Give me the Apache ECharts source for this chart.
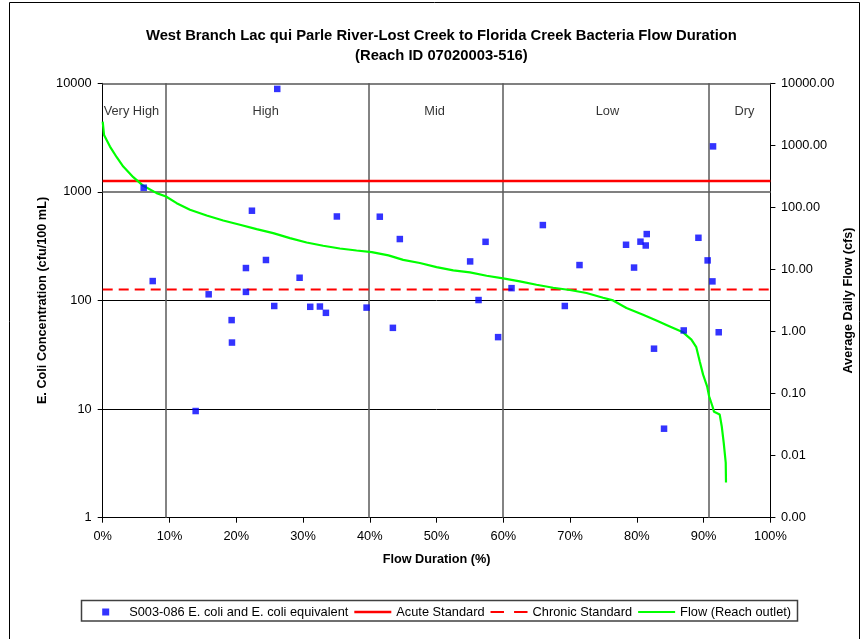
<!DOCTYPE html>
<html>
<head>
<meta charset="utf-8">
<script src="https://cdn.jsdelivr.net/npm/echarts@6/dist/echarts.min.js"></script>
<style>
html,body{margin:0;padding:0;background:#fff;}
#chart{width:867px;height:639px;}
</style>
</head>
<body>
<div id="chart"></div>
<script>
// ---- data ----
const titleLines = ['West Branch Lac qui Parle River-Lost Creek to Florida Creek Bacteria Flow Duration', '(Reach ID 07020003-516)'];
const seriesNames = ['S003-086 E. coli and E. coli equivalent', 'Acute Standard', 'Chronic Standard', 'Flow (Reach outlet)'];

// E. coli samples: flow duration (%) and concentration (cfu/100 mL)
const sampleDuration = [6.14, 7.49, 13.92, 15.87, 19.31, 19.36, 21.45, 21.45, 22.35, 24.45, 25.69, 26.14, 29.49, 31.08, 32.53, 33.43, 35.07, 39.52, 41.5, 43.46, 44.5, 55.03, 56.29, 57.34, 59.22, 61.23, 65.92, 69.21, 71.41, 78.38, 79.58, 80.54, 81.33, 81.48, 82.57, 84.07, 87.02, 89.22, 90.6, 91.32, 91.41, 92.26];
const sampleConc = [1093, 151, 9.6, 114, 66, 41, 199, 120, 671, 236, 89, 8878, 162, 87.5, 88, 77, 594, 86, 591, 56, 368, 229, 101, 347, 46, 130, 495, 89, 212, 326, 201, 348, 321, 409, 36, 6.6, 53, 378, 234, 150, 2625, 51];

// Standards (cfu/100 mL)
const acuteStandard = 1260;
const chronicStandard = 126;

// Flow duration curve: duration (%) and average daily flow (cfs)
const flowDuration = [0, 0.2, 1.09, 2.1, 3.08, 4.58, 6.08, 8.08, 9.48, 11.08, 13.07, 15.57, 18.05, 20.55, 23.05, 25.54, 28.04, 30.54, 33.02, 35.52, 38.02, 40.3, 42.8, 45.0, 47.5, 50, 52.5, 55, 57.5, 59.97, 62.47, 64.97, 67.46, 69.96, 72.46, 74.94, 76.44, 78.44, 80.93, 82.93, 84.93, 86.92, 88.17, 88.9, 89.42, 89.92, 90.52, 90.82, 91.32, 91.56, 92.41, 92.71, 93.01, 93.31, 93.35];
const flowCfs = [2410, 1473, 955, 644, 455, 307, 223, 170, 150, 117, 91.5, 74, 61.5, 52.5, 44.7, 38.5, 32, 27.2, 24.1, 21.8, 20.2, 19, 16.9, 14.3, 12.7, 10.9, 9.66, 8.97, 7.93, 7.18, 6.42, 5.68, 5.08, 4.67, 4.18, 3.51, 3.17, 2.39, 1.87, 1.51, 1.21, 0.97, 0.74, 0.56, 0.33, 0.202, 0.131, 0.0906, 0.0625, 0.0508, 0.0459, 0.0298, 0.0161, 0.00768, 0.0037];

// Flow zones
const zoneNames = ['Very High', 'High', 'Mid', 'Low', 'Dry'];
const zoneLabelX = [4.3, 24.4, 49.7, 75.6, 96.1];
const zoneLabelY = 5520;
const zoneBoundaries = [9.5, 39.9, 59.9, 90.7];

// Horizontal reference lines on the concentration axis
const hLineValues = [10, 100, 1000, 10000];
const hLineColors = ['#000000', '#000000', '#808080', '#808080'];
const hLineWidths = [1, 1, 2, 2];

// ---- chart ----
const FONT = '"Liberation Sans", Arial, sans-serif';
const chart = echarts.init(document.getElementById('chart'));

const samples = sampleDuration.map((d, i) => [d, sampleConc[i]]);
const flow = flowDuration.map((d, i) => [d, flowCfs[i]]);
const zoneData = zoneNames.map((n, i) => ({ value: [zoneLabelX[i], zoneLabelY], name: n }));

const markLines = [];
hLineValues.forEach((v, i) => markLines.push({ yAxis: v, lineStyle: { color: hLineColors[i], width: hLineWidths[i], type: 'solid' } }));
zoneBoundaries.forEach(v => markLines.push({ xAxis: v, lineStyle: { color: '#5a5a5a', width: 1.5, type: 'solid' } }));

const option = {
  animation: false,
  backgroundColor: '#ffffff',
  textStyle: { fontFamily: FONT },
  title: {
    text: titleLines.join('\n'),
    left: 441.4,
    textAlign: 'center',
    top: 25.7,
    padding: 0,
    textStyle: { fontFamily: FONT, fontSize: 14.8, fontWeight: 'bold', color: '#000', lineHeight: 20 }
  },
  graphic: [
    { type: 'rect', silent: true, z: -10, shape: { x: 9.5, y: 2.5, width: 850, height: 660 }, style: { fill: 'none', stroke: '#000', lineWidth: 1 } },
    { type: 'rect', silent: true, z: -10, shape: { x: 81.5, y: 600.5, width: 716, height: 20.5 }, style: { fill: 'none', stroke: '#404040', lineWidth: 1.5 } }
  ],
  legend: {
    data: [
      { name: seriesNames[0], icon: 'path://M0,0L10,0L10,10L0,10Z' },
      { name: seriesNames[1], icon: 'path://M0,0L37,0L37,2.7L0,2.7Z' },
      { name: seriesNames[2], icon: 'path://M0,0L12,0L12,2L0,2Z M21,0L33,0L33,2L21,2Z' },
      { name: seriesNames[3], icon: 'path://M0,0L37,0L37,2L0,2Z' }
    ],
    left: 102.2,
    top: 605.5,
    padding: 0,
    itemWidth: 37,
    itemHeight: 7,
    itemGap: 6,
    selectedMode: false,
    textStyle: { fontFamily: FONT, fontSize: 12.8, color: '#000' }
  },
  grid: { left: 102.7, right: 96.6, top: 83.3, bottom: 121.3 },
  xAxis: {
    type: 'value', min: 0, max: 100, interval: 10,
    name: 'Flow Duration (%)', nameLocation: 'middle', nameGap: 35,
    nameTextStyle: { fontFamily: FONT, fontSize: 12.7, fontWeight: 'bold', color: '#000' },
    axisLine: { show: true, lineStyle: { color: '#000', width: 1 } },
    axisTick: { show: true, length: 5, lineStyle: { color: '#000' } },
    axisLabel: { formatter: '{value}%', margin: 12, fontFamily: FONT, fontSize: 12.8, color: '#000' },
    splitLine: { show: false }
  },
  yAxis: [
    {
      type: 'log', logBase: 10, min: 1, max: 10000, position: 'left',
      name: 'E. Coli Concentration (cfu/100 mL)', nameLocation: 'middle', nameGap: 54, nameMoveOverlap: false,
      nameTextStyle: { fontFamily: FONT, fontSize: 12.7, fontWeight: 'bold', color: '#000' },
      axisLine: { show: true, lineStyle: { color: '#000', width: 1 } },
      axisTick: { show: true, length: 5, lineStyle: { color: '#000' } },
      axisLabel: { margin: 11, fontFamily: FONT, fontSize: 12.8, color: '#000', formatter: v => String(Math.round(Number(v))) },
      splitLine: { show: false },
      minorTick: { show: false }
    },
    {
      type: 'log', logBase: 10, min: 0.001, max: 10000, position: 'right',
      name: 'Average Daily Flow (cfs)', nameLocation: 'middle', nameGap: 72, nameMoveOverlap: false,
      nameTextStyle: { fontFamily: FONT, fontSize: 12.7, fontWeight: 'bold', color: '#000' },
      axisLine: { show: true, lineStyle: { color: '#000', width: 1 } },
      axisTick: { show: true, length: 5, lineStyle: { color: '#000' } },
      axisLabel: { margin: 10.5, fontFamily: FONT, fontSize: 12.8, color: '#000', formatter: v => Number(v).toFixed(2) },
      splitLine: { show: false },
      minorTick: { show: false }
    }
  ],
  series: [
    {
      name: 'zones', type: 'scatter', yAxisIndex: 0, z: 1,
      data: zoneData, symbolSize: 1, itemStyle: { color: 'rgba(0,0,0,0)' }, silent: true,
      label: { show: true, position: 'inside', formatter: p => p.name, fontFamily: FONT, fontSize: 12.8, color: '#000' },
      markLine: { silent: true, symbol: 'none', label: { show: false }, data: markLines, z: 1 }
    },
    {
      name: seriesNames[1], type: 'line', yAxisIndex: 0, z: 2,
      data: [[0, acuteStandard], [100, acuteStandard]], symbol: 'none',
      lineStyle: { color: '#ff0000', width: 2.7, type: 'solid' }, itemStyle: { color: '#ff0000' }
    },
    {
      name: seriesNames[2], type: 'line', yAxisIndex: 0, z: 2,
      data: [[0, chronicStandard], [100, chronicStandard]], symbol: 'none',
      lineStyle: { color: '#ff0000', width: 2, type: [10, 6] }, itemStyle: { color: '#ff0000' }
    },
    {
      name: seriesNames[3], type: 'line', yAxisIndex: 1, z: 3,
      data: flow, symbol: 'none',
      lineStyle: { color: '#00ff00', width: 2.2 }, itemStyle: { color: '#00ff00' }
    },
    {
      name: seriesNames[0], type: 'scatter', yAxisIndex: 0, z: 4,
      data: samples, symbol: 'rect', symbolSize: 6.5,
      itemStyle: { color: '#0000ff' }
    }
  ]
};
chart.setOption(option);
</script>
</body>
</html>
